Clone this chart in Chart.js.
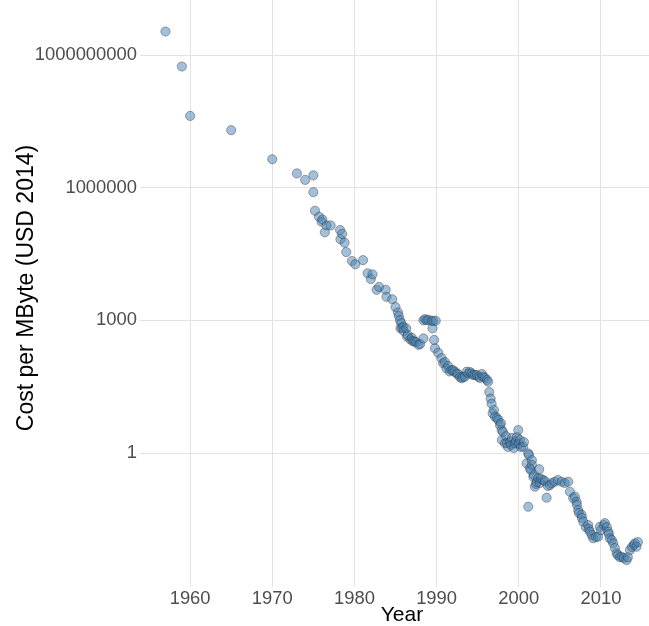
<!DOCTYPE html>
<html>
<head>
<meta charset="utf-8">
<script src="https://cdn.jsdelivr.net/npm/chart.js@4"></script>
<style>
  html, body { margin: 0; padding: 0; background: #fff; }
  body { position: relative; width: 649px; height: 626px; overflow: hidden; }
  /* el panel original sobresale del recorte por arriba y por la derecha */
  canvas { display: block; position: absolute; left: 0; top: -11px; }
</style>
</head>
<body>
<canvas id="grafico" width="664" height="637"></canvas>
<script>
// datos
const years = [
  1957.0, 1959.0, 1960.0, 1965.0, 1970.0, 1973.0, 1974.0, 1975.0, 1975.0, 1975.2,
  1975.7, 1976.0, 1976.1, 1976.4, 1976.6, 1977.1, 1978.25, 1978.3, 1978.5, 1978.8,
  1979.0, 1979.7, 1980.1, 1981.05, 1981.6, 1982.0, 1982.2, 1982.7, 1983.0, 1983.8,
  1983.9, 1984.6, 1985.0, 1985.3, 1985.4, 1985.55, 1985.6, 1985.7, 1985.8, 1985.95,
  1986.0, 1986.3, 1986.4, 1986.5, 1986.8, 1987.0, 1987.1, 1987.3, 1987.5, 1987.8,
  1988.0, 1988.4, 1988.4, 1988.6, 1988.8, 1989.0, 1989.4, 1989.5, 1989.6, 1989.7,
  1989.8, 1989.9, 1990.2, 1990.6, 1990.8, 1991.0, 1991.2, 1991.4, 1991.6, 1991.8,
  1992.0, 1992.2, 1992.45, 1992.6, 1992.85, 1993.05, 1993.2, 1993.45, 1993.66, 1993.86,
  1994.06, 1994.27, 1994.43, 1994.67, 1994.91, 1995.07, 1995.28, 1995.52, 1995.68, 1995.89,
  1996.13, 1996.28, 1996.41, 1996.58, 1996.7, 1996.82, 1996.98, 1997.1, 1997.35, 1997.51,
  1997.71, 1997.83, 1997.92, 1997.95, 1998.08, 1998.32, 1998.44, 1998.56, 1998.69, 1998.93,
  1999.05, 1999.17, 1999.42, 1999.54, 1999.66, 1999.78, 1999.94, 2000.02, 2000.15, 2000.27,
  2000.55, 2000.63, 2000.96, 2001.16, 2001.16, 2001.24, 2001.36, 2001.48, 2001.6, 2001.6,
  2001.77, 2001.85, 2001.97, 2002.09, 2002.21, 2002.37, 2002.49, 2002.58, 2002.7, 2002.98,
  2003.19, 2003.39, 2003.55, 2003.8, 2004.04, 2004.4, 2004.77, 2005.22, 2005.6, 2006.02,
  2006.23, 2006.63, 2006.84, 2007.04, 2007.08, 2007.24, 2007.32, 2007.65, 2007.69, 2007.85,
  2008.17, 2008.45, 2008.54, 2008.66, 2008.9, 2009.06, 2009.39, 2009.67, 2009.88, 2010.0,
  2010.36, 2010.49, 2010.73, 2010.89, 2010.97, 2011.09, 2011.33, 2011.5, 2011.7, 2011.91,
  2012.07, 2012.31, 2012.52, 2012.8, 2013.13, 2013.28, 2013.53, 2013.77, 2014.01, 2014.14,
  2014.34, 2014.5
];

const costs = [
  3.4e9, 5.5e8, 4.2e7, 2.0e7, 4.4e6, 2.1e6, 1.5e6, 1.9e6, 7.9e5, 3.0e5,
  2.2e5, 1.7e5, 1.9e5, 9.8e4, 1.4e5, 1.4e5, 1.1e5, 6.8e4, 9.0e4, 5.7e4,
  3.5e4, 2.2e4, 1.85e4, 2.3e4, 1.16e4, 8.6e3, 1.1e4, 4.9e3, 5.7e3, 4.9e3,
  3.4e3, 3.0e3, 2.0e3, 1.5e3, 1.25e3, 1.0e3, 660, 860, 670, 720,
  574, 660, 430, 466, 370, 400, 340, 330, 324, 280,
  292, 390, 1000, 1070, 1000, 1020, 980, 660, 967, 360,
  233, 980, 185, 140, 107, 114, 82, 93, 70, 75,
  75, 69, 63, 61, 52, 49, 52, 53, 69, 63,
  68, 63, 58, 58, 58, 53, 50, 61, 53, 50,
  45, 41, 24, 17, 13, 7.9, 9.4, 6.6, 6.2, 5.6,
  4.3, 4.7, 3.3, 1.97, 3.0, 1.66, 2.4, 1.68, 1.37, 1.8,
  1.52, 2.2, 1.3, 1.66, 1.87, 2.3, 3.3, 1.6, 1.97, 1.37,
  1.39, 1.77, 0.58, 0.98, 0.061, 0.9, 0.45, 0.41, 0.69, 0.54,
  0.29, 0.32, 0.173, 0.2, 0.22, 0.27, 0.43, 0.21, 0.26, 0.245,
  0.23, 0.0975, 0.18, 0.189, 0.21, 0.224, 0.245, 0.224, 0.21, 0.224,
  0.133, 0.095, 0.103, 0.079, 0.067, 0.051, 0.044, 0.040, 0.034, 0.028,
  0.021, 0.0235, 0.019, 0.0166, 0.014, 0.0118, 0.0126, 0.0128, 0.0215, 0.018,
  0.0235, 0.026, 0.021, 0.0166, 0.0147, 0.0118, 0.0108, 0.0091, 0.0071, 0.0054,
  0.0049, 0.0044, 0.0045, 0.0042, 0.0038, 0.0044, 0.0064, 0.0075, 0.0083, 0.0091,
  0.0076, 0.0097
];

const xTicks = [1960, 1970, 1980, 1990, 2000, 2010];
const yTicks = [1, 1000, 1000000, 1000000000];

Chart.defaults.font.family = '"Liberation Sans", Arial, sans-serif';

const puntos = years.map((y, i) => ({ x: y, y: costs[i] }));
const gris = '#e2e2e2';

new Chart(document.getElementById('grafico'), {
    type: 'scatter',
    data: {
        datasets: [{
            data: puntos,
            backgroundColor: 'rgba(70, 130, 180, 0.5)',
            borderColor: 'rgba(45, 45, 45, 0.5)',
            borderWidth: 0.8,
            pointRadius: 4.6
        }]
    },
    options: {
        responsive: false,
        animation: false,
        layout: { autoPadding: false, padding: 0 },
        plugins: {
            legend: { display: false },
            tooltip: { enabled: false }
        },
        scales: {
            x: {
                type: 'linear',
                min: 1953.9,
                max: 2017.68,
                afterBuildTicks: s => { s.ticks = xTicks.map(v => ({ value: v })); },
                afterFit: s => {
                    s.height = 39;
                    s.paddingLeft = 0;
                    s.paddingRight = 0;
                },
                grid: { color: gris, lineWidth: 1, drawTicks: false },
                border: { display: false },
                ticks: {
                    padding: 1, color: '#4d4d4d', font: { size: 18.4 },
                    callback: v => String(v)
                },
                title: {
                    display: true, text: 'Year', color: '#000',
                    font: { size: 21, lineHeight: 1 }, padding: { top: 0, bottom: 0 }
                }
            },
            y: {
                type: 'logarithmic',
                min: Math.pow(10, -3.03),
                max: Math.pow(10, 10.493),
                afterBuildTicks: s => { s.ticks = yTicks.map(v => ({ value: v })); },
                afterFit: s => {
                    s.width = 140;
                    s.paddingTop = 0;
                    s.paddingBottom = 0;
                },
                grid: { color: gris, lineWidth: 1, drawTicks: false },
                border: { display: false },
                ticks: {
                    padding: 3, color: '#4d4d4d', font: { size: 18.4 },
                    callback: v => String(v)
                },
                title: {
                    display: true, text: 'Cost per MByte (USD 2014)', color: '#000',
                    font: { size: 23, lineHeight: 1.2 }, padding: { top: 13, bottom: 0 }
                }
            }
        }
    }
});
</script>
</body>
</html>
